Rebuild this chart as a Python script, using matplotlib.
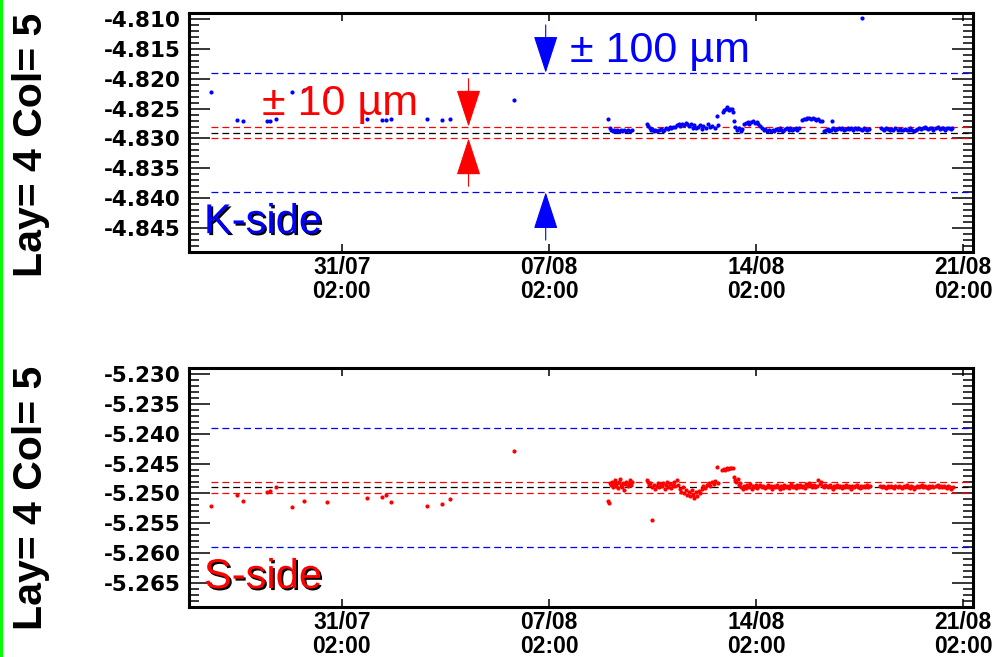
import pandas as pd
import matplotlib
matplotlib.use("Agg")
import matplotlib.pyplot as plt
import matplotlib.dates as mdates
import matplotlib.patheffects as pe
from matplotlib.patches import FancyArrowPatch, Rectangle
from matplotlib.ticker import MultipleLocator, FormatStrFormatter, FixedLocator

plt.rcParams['axes.unicode_minus'] = False

# time axis: days counted from 31/07 02:00
T0 = pd.Timestamp('2010-07-31 02:00')
x_range = (-5.17, 21.34)
week_ticks = [0, 7, 14, 21]

# K-side positions (early sparse readings, then continuous monitoring)
k_day = [-4.44, -3.54, -3.36, -2.53, -2.43, -2.23, -1.70, -1.29, -0.52, 0.86,
         1.34, 1.49, 1.65, 2.86, 3.37, 3.65, 5.82,
         9.00, 9.05, 9.10, 9.15, 9.20, 9.25, 9.30, 9.36, 9.42, 9.48, 9.55, 9.62, 9.68, 9.75, 9.80,
         10.32, 10.36, 10.40, 10.45, 10.50, 10.55, 10.60, 10.66, 10.72, 10.78, 10.84, 10.90, 10.96,
         11.02, 11.08, 11.14, 11.20, 11.26, 11.32, 11.38, 11.44, 11.50, 11.56, 11.62, 11.68, 11.74,
         11.80, 11.86, 11.92, 11.98, 12.04, 12.10, 12.16, 12.22, 12.30, 12.38, 12.45, 12.52, 12.60,
         12.67, 12.72, 12.88, 12.93, 12.98, 13.03, 13.08, 13.13, 13.18, 13.22, 13.26, 13.30, 13.36,
         13.42, 13.48, 13.54, 13.60, 13.66, 13.72, 13.78, 13.84, 13.90, 13.96, 14.02, 14.08, 14.14,
         14.20, 14.26, 14.32, 14.38, 14.44, 14.50, 14.56, 14.62, 14.68, 14.74, 14.80, 14.86, 14.92,
         14.98, 15.04, 15.10, 15.16, 15.22, 15.28, 15.34, 15.40, 15.46, 15.56, 15.62, 15.68, 15.74,
         15.80, 15.86, 15.92, 15.98, 16.04, 16.10, 16.16, 16.22, 16.56, 16.30, 16.36, 16.42, 16.48,
         16.54, 16.62, 16.68, 16.74, 16.80, 16.86, 16.92, 16.98, 17.04, 17.10, 17.16, 17.22, 17.28,
         17.34, 17.40, 17.46, 17.52, 17.58, 17.64, 17.70, 17.76, 17.82, 17.59,
         18.22, 18.28, 18.34, 18.40, 18.46, 18.52, 18.58, 18.64, 18.70, 18.80, 18.86, 18.92, 18.98,
         19.04, 19.10, 19.16, 19.22, 19.28, 19.34, 19.40, 19.46, 19.52, 19.58, 19.64, 19.70, 19.76,
         19.82, 19.88, 19.94, 20.00, 20.10, 20.16, 20.22, 20.28, 20.34, 20.40, 20.46, 20.52, 20.58,
         20.64]
k_val = [-4.8223, -4.8269, -4.8271, -4.8271, -4.8271, -4.8268, -4.8223, -4.8219, -4.8220, -4.8268,
         -4.8269, -4.8269, -4.8267, -4.8268, -4.8269, -4.8268, -4.8236,
         -4.8268, -4.8282, -4.8285, -4.8287, -4.8286, -4.8288, -4.8285, -4.8287, -4.8286, -4.8288,
         -4.8285, -4.8287, -4.8286, -4.8288, -4.8286,
         -4.8276, -4.8279, -4.8283, -4.8285, -4.8284, -4.8287, -4.8285, -4.8288, -4.8286, -4.8284,
         -4.8287, -4.8285, -4.8283, -4.8284, -4.8281, -4.8283, -4.8280, -4.8280, -4.8278, -4.8276,
         -4.8279, -4.8275, -4.8277, -4.8274, -4.8276, -4.8279, -4.8276, -4.8282, -4.8278, -4.8283,
         -4.8280, -4.8277, -4.8284, -4.8279, -4.8282, -4.8276, -4.8281, -4.8279, -4.8283,
         -4.8262, -4.8278, -4.8256, -4.8253, -4.8250, -4.8248, -4.8252, -4.8250, -4.8251, -4.8255,
         -4.8270, -4.8281, -4.8286, -4.8283, -4.8287, -4.8284, -4.8276, -4.8274, -4.8272, -4.8275,
         -4.8273, -4.8271, -4.8274, -4.8272, -4.8276, -4.8279,
         -4.8282, -4.8285, -4.8284, -4.8287, -4.8285, -4.8288, -4.8286, -4.8287, -4.8284, -4.8286,
         -4.8283, -4.8285, -4.8287, -4.8284, -4.8282, -4.8285, -4.8283, -4.8286, -4.8284, -4.8282,
         -4.8285, -4.8283, -4.8269, -4.8267, -4.8268, -4.8266, -4.8265, -4.8267, -4.8266, -4.8268,
         -4.8269, -4.8268, -4.8270, -4.8271, -4.8271, -4.8288, -4.8286, -4.8284, -4.8287,
         -4.8285, -4.8283, -4.8285, -4.8284, -4.8282, -4.8284, -4.8283, -4.8285, -4.8284, -4.8282,
         -4.8284, -4.8283, -4.8285, -4.8283, -4.8284, -4.8282, -4.8284, -4.8285, -4.8283, -4.8284,
         -4.8286, -4.8284, -4.8098,
         -4.8283, -4.8284, -4.8285, -4.8283, -4.8284, -4.8286, -4.8284, -4.8285, -4.8283, -4.8285,
         -4.8284, -4.8286, -4.8285, -4.8284, -4.8286, -4.8285, -4.8283, -4.8286, -4.8287, -4.8285,
         -4.8284, -4.8282, -4.8284, -4.8283, -4.8281, -4.8283, -4.8284, -4.8282, -4.8283, -4.8285,
         -4.8283, -4.8281, -4.8284, -4.8282, -4.8283, -4.8285, -4.8283, -4.8282, -4.8284, -4.8283]

# S-side positions
s_day = [-4.44, -3.54, -3.36, -2.53, -2.43, -2.23, -1.70, -1.29, -0.52, 0.86,
         1.34, 1.49, 1.65, 2.86, 3.37, 3.65, 5.82,
         9.00, 9.04, 9.06, 9.10, 9.14, 9.17, 9.20, 9.24, 9.27, 9.30, 9.34, 9.37, 9.40, 9.44, 9.47,
         9.50, 9.54, 9.58, 9.62, 9.66, 9.70, 9.74, 9.78, 9.81, 10.47,
         10.31, 10.35, 10.39, 10.43, 10.50, 10.55, 10.60, 10.64, 10.68, 10.73, 10.78, 10.82, 10.86,
         10.91, 10.95, 11.00, 11.04, 11.08, 11.13, 11.18, 11.22, 11.27, 11.32, 11.36,
         11.42, 11.47, 11.52, 11.57, 11.62, 11.67, 11.72, 11.77, 11.82, 11.87, 11.92, 11.97, 12.02,
         12.07, 12.12, 12.17, 12.22, 12.27, 12.33, 12.40, 12.46, 12.52, 12.58, 12.63, 12.67, 12.73,
         12.86, 12.91, 12.96, 13.01, 13.06, 13.11, 13.16, 13.21,
         13.26, 13.30, 13.34, 13.38, 13.42, 13.46, 13.50, 13.55,
         13.60, 13.65, 13.70, 13.75, 13.80, 13.85, 13.90, 13.95, 14.00, 14.05, 14.10, 14.15, 14.20,
         14.25, 14.30, 14.35, 14.40, 14.45, 14.50, 14.55, 14.60, 14.65, 14.70, 14.75, 14.80, 14.85,
         14.90, 14.95, 15.00, 15.05, 15.10, 15.15, 15.20, 15.25, 15.30, 15.35, 15.40, 15.45, 15.50,
         15.55, 15.60, 15.65, 15.70, 15.75, 15.80, 15.85, 15.90, 15.95, 16.00, 16.05, 16.10, 16.15,
         16.20, 16.25, 16.30, 16.35, 16.40, 16.45, 16.50, 16.55, 16.60, 16.65, 16.70, 16.75, 16.80,
         16.85, 16.90, 16.95, 17.00, 17.05, 17.10, 17.15, 17.20, 17.25, 17.30, 17.35, 17.40, 17.45,
         17.50, 17.55, 17.60, 17.65, 17.70, 17.75, 17.80, 17.85,
         18.20, 18.25, 18.30, 18.35, 18.40, 18.45, 18.50, 18.55, 18.60, 18.65, 18.70, 18.80, 18.85,
         18.90, 18.95, 19.00, 19.05, 19.10, 19.15, 19.20, 19.25, 19.30, 19.35, 19.40, 19.45, 19.50,
         19.55, 19.60, 19.65, 19.70, 19.75, 19.80, 19.85, 19.90, 19.95, 20.00, 20.10, 20.15, 20.20,
         20.25, 20.30, 20.35, 20.40, 20.45, 20.50, 20.55, 20.60, 20.65]
s_val = [-5.2521, -5.2503, -5.2512, -5.2497, -5.2496, -5.2490, -5.2522, -5.2513, -5.2514, -5.2508,
         -5.2506, -5.2502, -5.2515, -5.2521, -5.2518, -5.2509, -5.2429,
         -5.2512, -5.2516, -5.2482, -5.2486, -5.2480, -5.2490, -5.2484, -5.2478, -5.2488, -5.2483,
         -5.2491, -5.2481, -5.2476, -5.2486, -5.2489, -5.2482, -5.2494, -5.2484, -5.2480, -5.2487,
         -5.2483, -5.2478, -5.2485, -5.2481, -5.2545,
         -5.2478, -5.2481, -5.2486, -5.2483, -5.2489, -5.2485, -5.2492, -5.2487, -5.2482, -5.2490,
         -5.2484, -5.2488, -5.2483, -5.2493, -5.2486, -5.2481, -5.2489, -5.2484, -5.2491, -5.2485,
         -5.2480, -5.2488, -5.2478, -5.2486,
         -5.2492, -5.2497, -5.2489, -5.2500, -5.2495, -5.2503, -5.2498, -5.2505, -5.2494, -5.2502,
         -5.2508, -5.2497, -5.2504, -5.2496, -5.2500, -5.2493, -5.2488, -5.2491, -5.2485, -5.2483,
         -5.2487, -5.2481, -5.2484, -5.2479, -5.2455, -5.2482,
         -5.2461, -5.2459, -5.2460, -5.2458, -5.2459, -5.2457, -5.2458, -5.2457,
         -5.2472, -5.2477, -5.2481, -5.2476, -5.2486, -5.2483, -5.2489, -5.2492,
         -5.2487, -5.2491, -5.2485, -5.2489, -5.2484, -5.2492, -5.2487, -5.2490, -5.2486, -5.2491,
         -5.2488, -5.2485, -5.2490, -5.2487, -5.2491, -5.2489, -5.2486, -5.2490, -5.2488, -5.2492,
         -5.2487, -5.2490, -5.2485, -5.2489, -5.2493, -5.2488, -5.2491, -5.2486, -5.2490, -5.2487,
         -5.2491, -5.2488, -5.2484, -5.2490, -5.2487, -5.2491, -5.2486, -5.2489, -5.2485, -5.2490,
         -5.2487, -5.2491, -5.2484, -5.2488, -5.2482, -5.2486, -5.2489, -5.2485, -5.2490, -5.2487,
         -5.2478, -5.2484, -5.2480, -5.2487, -5.2489, -5.2485, -5.2488, -5.2490, -5.2486, -5.2489,
         -5.2492, -5.2487, -5.2489, -5.2485, -5.2490, -5.2488, -5.2491, -5.2487, -5.2489, -5.2486,
         -5.2490, -5.2488, -5.2493, -5.2487, -5.2490, -5.2488, -5.2486, -5.2489, -5.2491, -5.2488,
         -5.2490, -5.2487, -5.2489, -5.2486, -5.2490, -5.2488,
         -5.2488, -5.2490, -5.2487, -5.2489, -5.2491, -5.2488, -5.2490, -5.2487, -5.2489, -5.2491,
         -5.2488, -5.2490, -5.2487, -5.2489, -5.2491, -5.2488, -5.2490, -5.2486, -5.2489, -5.2491,
         -5.2488, -5.2490, -5.2492, -5.2489, -5.2487, -5.2490, -5.2488, -5.2486, -5.2489, -5.2487,
         -5.2489, -5.2491, -5.2488, -5.2490, -5.2487, -5.2489, -5.2488, -5.2486, -5.2489, -5.2487,
         -5.2490, -5.2488, -5.2489, -5.2491, -5.2488, -5.2490, -5.2492, -5.2490]

k_center, s_center = -4.829, -5.249
k_ylim = (-4.849, -4.809)
s_ylim = (-5.269, -5.229)
band_wide, band_narrow = 0.010, 0.001
arrow_len = 0.008
red_arrow_day, blue_arrow_day = 4.28, 6.89

BLUE, RED, GREEN = (0, 0, 1), (1, 0, 0), (0, 1, 0)


def to_time(days):
    return T0 + pd.to_timedelta(pd.Series(days, dtype=float), unit='D')


def day_time(d):
    return T0 + pd.Timedelta(days=d)


def panel(ax, day, val, center, ylim, color, side):
    x0, x1 = day_time(min(day)), day_time(x_range[1])
    dash = (0, (5.5, 3.2))
    for off, c in [(band_wide, BLUE), (-band_wide, BLUE),
                   (band_narrow, RED), (-band_narrow, RED), (0, 'black')]:
        ax.hlines(center + off, x0, x1, colors=[c], lw=0.9, linestyles=[dash])
    ax.plot(to_time(day), val, ls='none', marker='o', ms=3.0, mfc=color, mec=color, mew=0)

    ax.set_xlim(day_time(x_range[0]), day_time(x_range[1]))
    ax.set_ylim(*ylim)
    ax.xaxis.set_major_locator(FixedLocator(mdates.date2num([day_time(d) for d in week_ticks])))
    ax.xaxis.set_major_formatter(mdates.DateFormatter('%d/%m\n%H:%M'))
    ax.yaxis.set_major_locator(MultipleLocator(0.005))
    ax.yaxis.set_minor_locator(MultipleLocator(0.001))
    ax.yaxis.set_major_formatter(FormatStrFormatter('%.3f'))
    ax.tick_params(axis='y', which='major', direction='in', left=True, right=True,
                   length=15, width=1.1, pad=6)
    ax.tick_params(axis='y', which='minor', direction='in', left=True, right=True,
                   length=7, width=1.1)
    ax.tick_params(axis='x', which='major', direction='in', top=True, bottom=True,
                   length=6, width=1.1, pad=3)
    for s in ax.spines.values():
        s.set_linewidth(2.2)
    for t in ax.get_yticklabels():
        t.set_fontfamily('DejaVu Sans')
        t.set_fontweight('bold')
        t.set_fontsize(15.5)
    for t in ax.get_xticklabels():
        t.set_fontfamily('Liberation Sans')
        t.set_fontweight('bold')
        t.set_fontsize(16.5)
        t.set_linespacing(1.05)

    ax.text(0.019, 0.079, side, transform=ax.transAxes, color=color,
            fontfamily='Liberation Sans', fontsize=30, ha='left', va='baseline',
            path_effects=[pe.withSimplePatchShadow(offset=(1.4, -1.4),
                                                   shadow_rgbFace='black', alpha=1.0)])


def arrow(ax, d, tip, tail, color):
    ax.add_patch(FancyArrowPatch((mdates.date2num(day_time(d)), tail),
                                 (mdates.date2num(day_time(d)), tip),
                                 arrowstyle='-|>,head_length=24,head_width=7.8',
                                 mutation_scale=1, color=color, lw=0.8,
                                 shrinkA=0, shrinkB=0))


fig = plt.figure(figsize=(9.97, 6.57), dpi=100)
ax1 = fig.add_axes([0.1896, 0.6164, 0.7864, 0.3638])
ax2 = fig.add_axes([0.1896, 0.0761, 0.7864, 0.3638])

panel(ax1, k_day, k_val, k_center, k_ylim, BLUE, 'K-side')
panel(ax2, s_day, s_val, s_center, s_ylim, RED, 'S-side')

# tolerance markers on the K-side panel
tip_hi, tip_lo = k_center + band_narrow, k_center - band_narrow
arrow(ax1, red_arrow_day, tip_hi, tip_hi + arrow_len, RED)
arrow(ax1, red_arrow_day, tip_lo, tip_lo - arrow_len, RED)
tip_hi, tip_lo = k_center + band_wide, k_center - band_wide
arrow(ax1, blue_arrow_day, tip_hi, tip_hi + arrow_len, BLUE)
arrow(ax1, blue_arrow_day, tip_lo, tip_lo - arrow_len, BLUE)

ax1.text(0.093, 0.573, '± 10 µm', transform=ax1.transAxes, color=RED,
         fontfamily='Liberation Sans', fontsize=31, ha='left', va='baseline')
ax1.text(0.486, 0.795, '± 100 µm', transform=ax1.transAxes, color=BLUE,
         fontfamily='Liberation Sans', fontsize=31, ha='left', va='baseline')

for yc in (1 - 145 / 657, 1 - 498 / 657):
    fig.text(30.5 / 997, yc, 'Lay= 4 Col= 5', rotation=90, ha='center', va='center',
             fontfamily='Liberation Sans', fontweight='bold', fontsize=29.5)

fig.add_artist(Rectangle((0, 0), 3.3 / 997, 1, transform=fig.transFigure,
                         facecolor=GREEN, edgecolor='none'))

fig.savefig('out.png', dpi=100)
